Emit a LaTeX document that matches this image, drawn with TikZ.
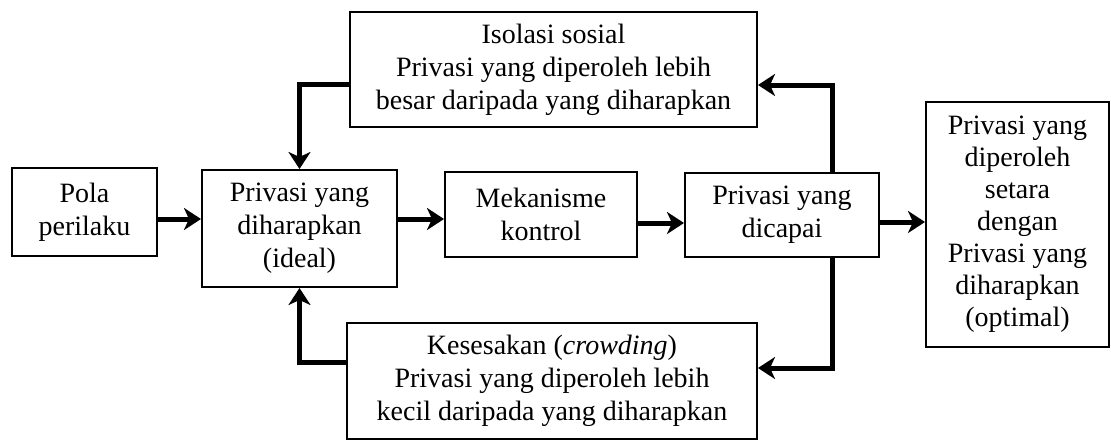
\documentclass[tikz,border=0pt]{standalone}
\usepackage{fontspec}
\setmainfont{Liberation Serif}
\usetikzlibrary{arrows.meta,calc}
\tikzset{
  box/.style={draw, line width=2pt, align=center, inner sep=0pt, font=\fontsize{28}{33}\selectfont},
  arr/.style={line width=5pt, -{Stealth[length=17pt,width=22pt,inset=5pt]}},
}
\begin{document}
\begin{tikzpicture}[x=1pt,y=-1pt]
\useasboundingbox (0,0) rectangle (1111,440);
\node[box, minimum width=145, minimum height=88] (pola) at (84.5,212) {Pola\\perilaku};
\node[box, minimum width=195, minimum height=117] (dih) at (299.5,228.5) {Privasi yang\\diharapkan\\(ideal)};
\node[box, minimum width=192, minimum height=85] (mek) at (541,214.5) {Mekanisme\\kontrol};
\node[box, minimum width=194, minimum height=84] (dic) at (782,215) {Privasi yang\\dicapai};
\node[box, minimum width=183, minimum height=245, font=\fontsize{28}{32}\selectfont] (opt) at (1017.5,224.5) {Privasi yang\\diperoleh\\setara\\dengan\\Privasi yang\\diharapkan\\(optimal)};
\node[box, minimum width=407, minimum height=115] (iso) at (553.5,69.5) {Isolasi sosial\\Privasi yang diperoleh lebih\\besar daripada yang diharapkan};
\node[box, minimum width=410, minimum height=116] (kes) at (552,381) {Kesesakan (\textit{crowding})\\Privasi yang diperoleh lebih\\kecil daripada yang diharapkan};
\draw[arr] (pola.east |- 0,219) -- (dih.west |- 0,219);
\draw[arr] (dih.east |- 0,219) -- (mek.west |- 0,219);
\draw[arr] (mek.east |- 0,223) -- (dic.west |- 0,223);
\draw[arr] (dic.east |- 0,222) -- (opt.west |- 0,222);
\draw[arr] (iso.west |- 0,84) -| (dih.north);
\draw[arr] (kes.west |- 0,362) -| (dih.south);
\draw[arr] (dic.north -| 832,0) |- (iso.east |- 0,85);
\draw[arr] (dic.south -| 832,0) |- (kes.east |- 0,368);
\end{tikzpicture}
\end{document}
